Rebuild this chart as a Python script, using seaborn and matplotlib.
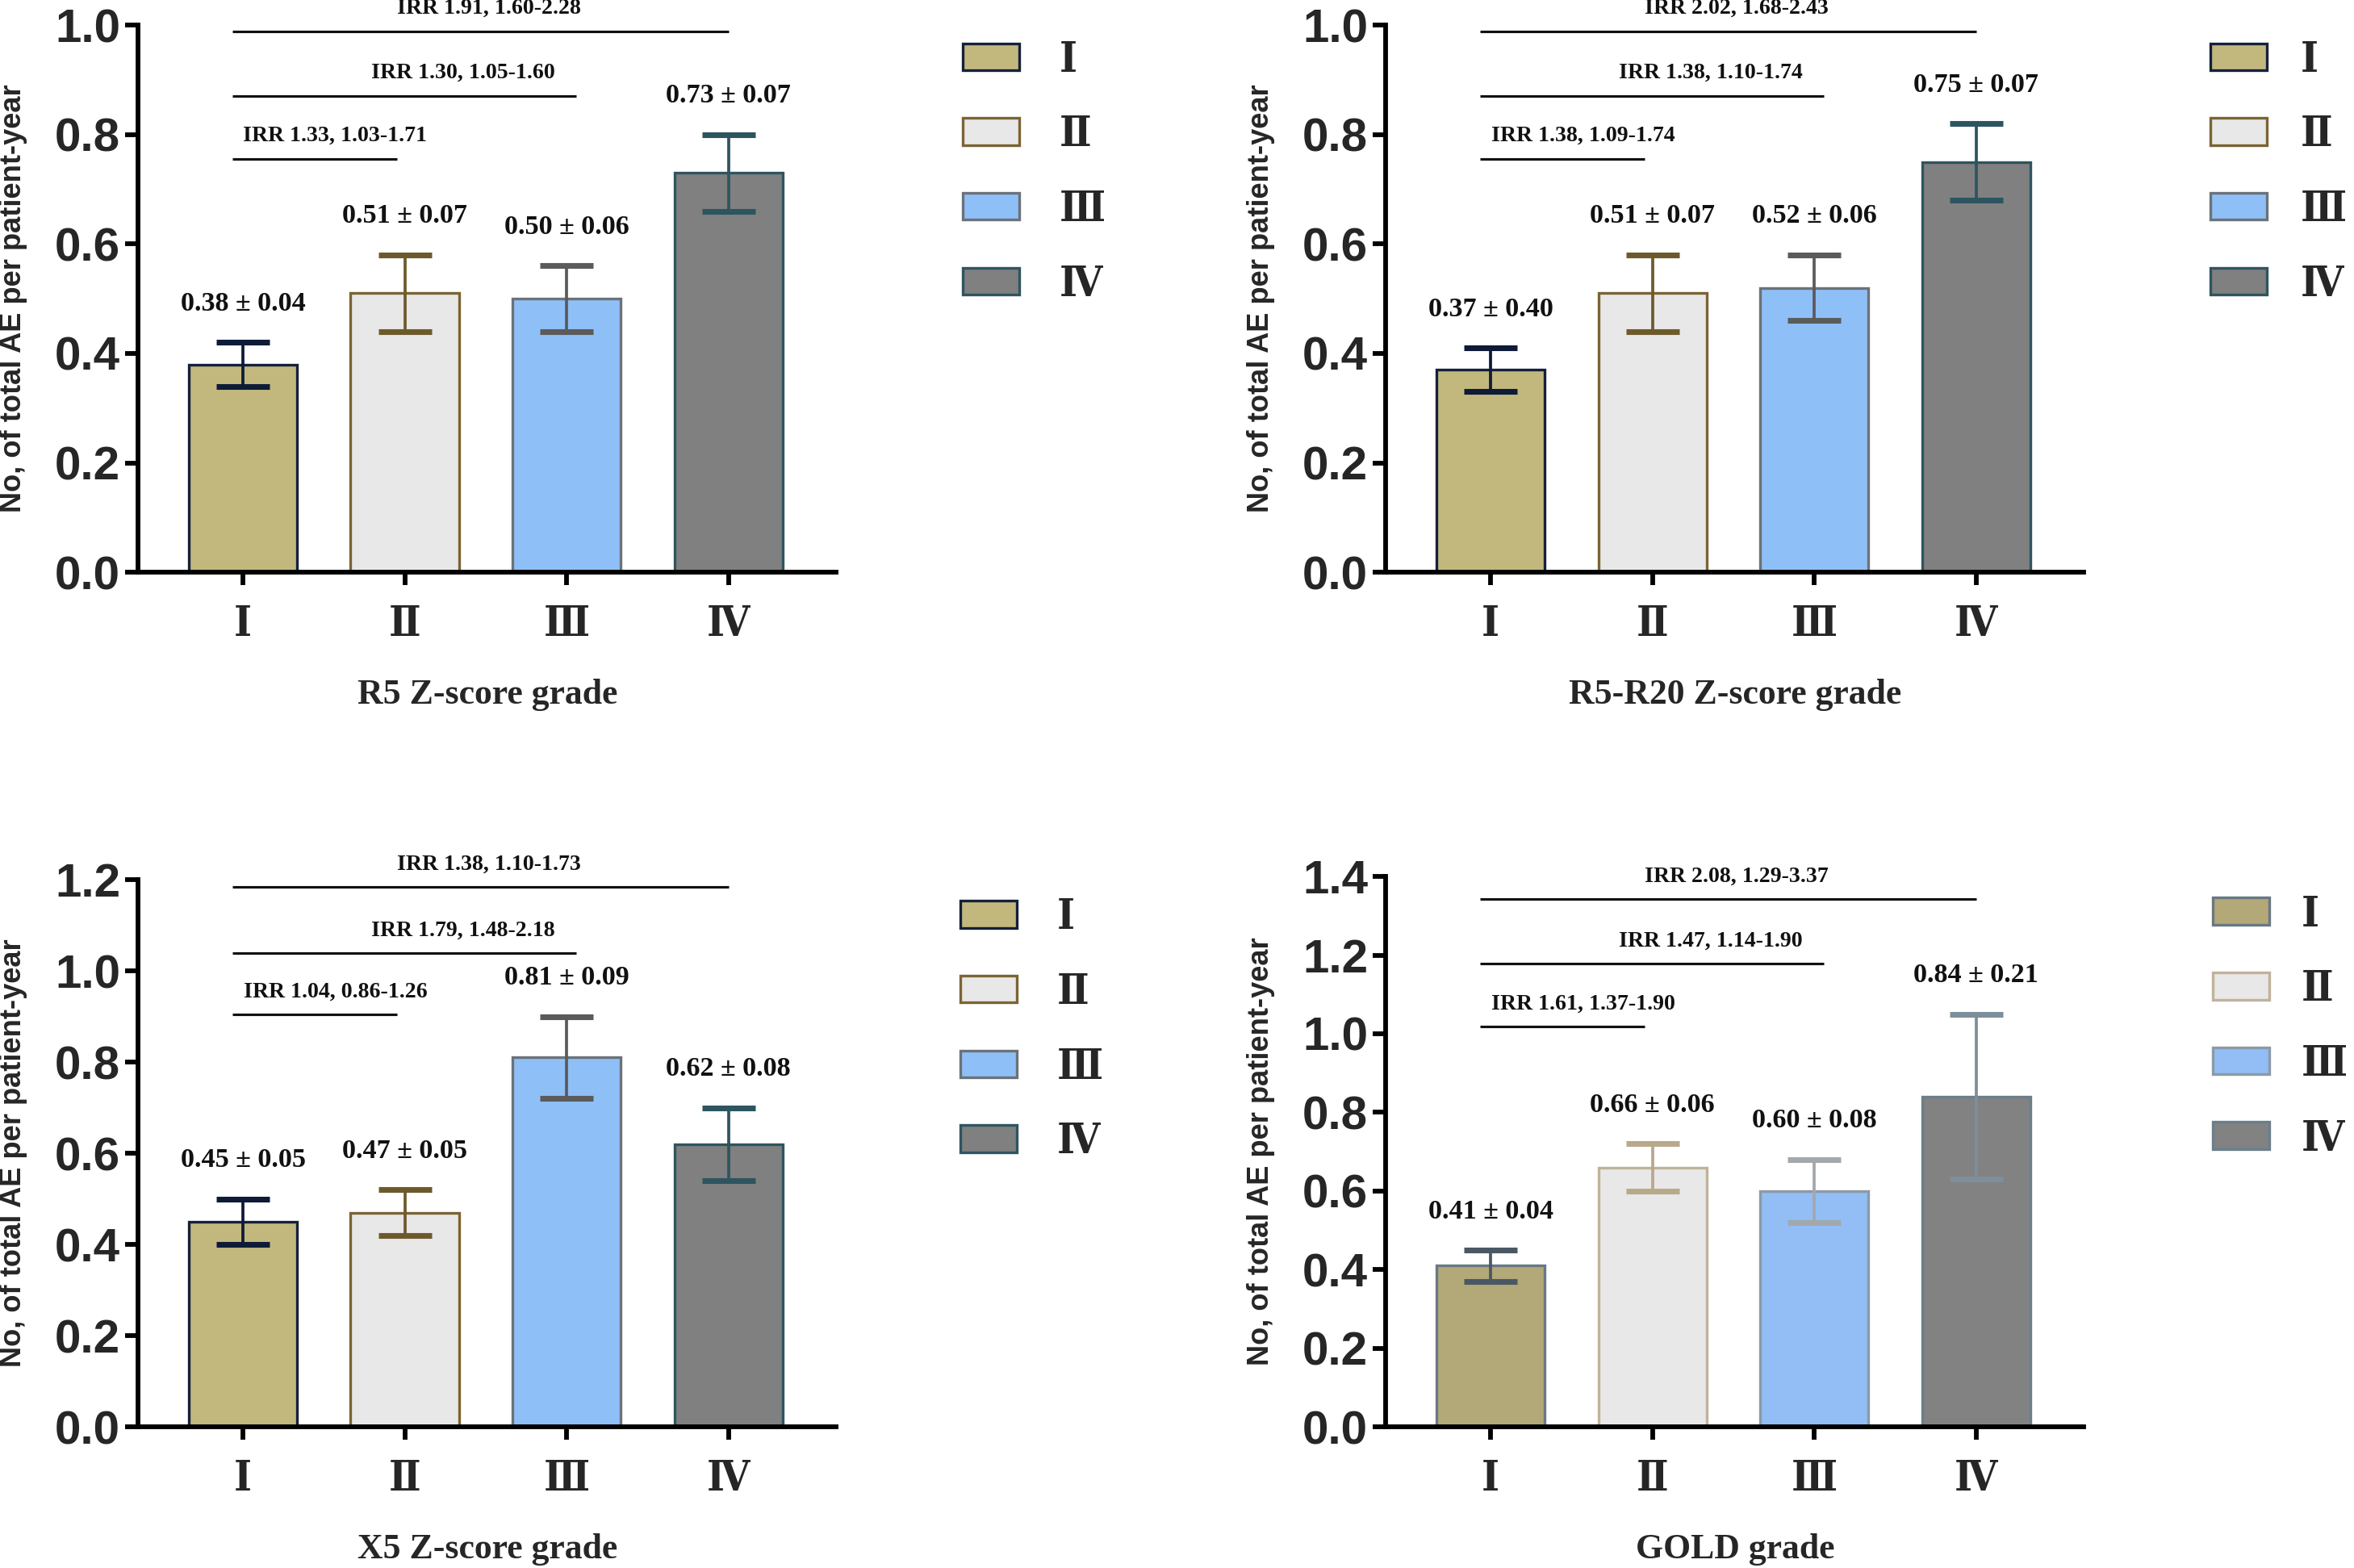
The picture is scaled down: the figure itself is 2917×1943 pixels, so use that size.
import numpy as np
import pandas as pd
import matplotlib
matplotlib.use("Agg")
import matplotlib.pyplot as plt
import seaborn as sns
from matplotlib.patches import Patch

# ---------------- data ----------------
grades = ["Ⅰ", "Ⅱ", "Ⅲ", "Ⅳ"]

r5_rate = [0.38, 0.51, 0.50, 0.73]
r5_err = [0.04, 0.07, 0.06, 0.07]
r5_labels = ["0.38 ± 0.04", "0.51 ± 0.07", "0.50 ± 0.06", "0.73 ± 0.07"]
r5_irr = ["IRR 1.33, 1.03-1.71", "IRR 1.30, 1.05-1.60", "IRR 1.91, 1.60-2.28"]

r520_rate = [0.37, 0.51, 0.52, 0.75]
r520_err = [0.04, 0.07, 0.06, 0.07]
r520_labels = ["0.37 ± 0.40", "0.51 ± 0.07", "0.52 ± 0.06", "0.75 ± 0.07"]
r520_irr = ["IRR 1.38, 1.09-1.74", "IRR 1.38, 1.10-1.74", "IRR 2.02, 1.68-2.43"]

x5_rate = [0.45, 0.47, 0.81, 0.62]
x5_err = [0.05, 0.05, 0.09, 0.08]
x5_labels = ["0.45 ± 0.05", "0.47 ± 0.05", "0.81 ± 0.09", "0.62 ± 0.08"]
x5_irr = ["IRR 1.04, 0.86-1.26", "IRR 1.79, 1.48-2.18", "IRR 1.38, 1.10-1.73"]

gold_rate = [0.41, 0.66, 0.60, 0.84]
gold_err = [0.04, 0.06, 0.08, 0.21]
gold_labels = ["0.41 ± 0.04", "0.66 ± 0.06", "0.60 ± 0.08", "0.84 ± 0.21"]
gold_irr = ["IRR 1.61, 1.37-1.90", "IRR 1.47, 1.14-1.90", "IRR 2.08, 1.29-3.37"]

xlabels = ["R5 Z-score grade", "R5-R20 Z-score grade", "X5 Z-score grade", "GOLD grade"]
ylabel = "No, of total AE per patient-year"

# ---------------- styles ----------------
fill_a = ["#c2b87e", "#e8e8e8", "#8fbff7", "#808080"]
edge_a = ["#15203a", "#7b6434", "#6b7278", "#2e5560"]
err_a = ["#0e1b38", "#6d5a2c", "#5b5b5b", "#2d5560"]
fill_g = ["#b3a877", "#e8e8e8", "#92bef5", "#828282"]
edge_g = ["#6a7886", "#c0b29a", "#8c9aa6", "#6a7f8a"]
err_g = ["#4a5864", "#b9a98b", "#a3a8ad", "#7d8f9b"]

sns.set_theme(style="white")
plt.rcParams["font.family"] = ["Liberation Sans", "DejaVu Sans"]

W, H = 2917 / 300, 1943 / 300
fig = plt.figure(figsize=(W, H), dpi=300)

panels = [
    dict(rect=[0.0587, 0.635, 0.2966, 0.349], rate=r5_rate, err=r5_err, labels=r5_labels,
         irr=r5_irr, ymax=1.0, irr_y=[0.756, 0.871, 0.989], xl=xlabels[0],
         fill=fill_a, edge=edge_a, ecol=err_a, leg=(0.409, 0.975), pad=0.95),
    dict(rect=[0.5887, 0.635, 0.2966, 0.349], rate=r520_rate, err=r520_err, labels=r520_labels,
         irr=r520_irr, ymax=1.0, irr_y=[0.756, 0.871, 0.989], xl=xlabels[1],
         fill=fill_a, edge=edge_a, ecol=err_a, leg=(0.939, 0.975), pad=0.8),
    dict(rect=[0.0587, 0.090, 0.2966, 0.349], rate=x5_rate, err=x5_err, labels=x5_labels,
         irr=x5_irr, ymax=1.2, irr_y=[0.904, 1.039, 1.184], xl=xlabels[2],
         fill=fill_a, edge=edge_a, ecol=err_a, leg=(0.408, 0.428), pad=0.95),
    dict(rect=[0.5887, 0.090, 0.2966, 0.351], rate=gold_rate, err=gold_err, labels=gold_labels,
         irr=gold_irr, ymax=1.4, irr_y=[1.018, 1.179, 1.343], xl=xlabels[3],
         fill=fill_g, edge=edge_g, ecol=err_g, leg=(0.940, 0.430), pad=0.75),
]

line_end = [0.95, 2.06, 3.0]
line_start = -0.065
text_x = [0.57, 1.36, 1.52]

roman_family = ["DejaVu Serif", "DejaVu Sans"]
roman_font = dict(family=roman_family, weight="bold", size=12.5, stretch="condensed")

for p in panels:
    ax = fig.add_axes(p["rect"])
    df = pd.DataFrame({"grade": grades, "rate": p["rate"]})
    sns.barplot(data=df, x="grade", y="rate", hue="grade", palette=p["fill"],
                width=0.67, dodge=False, legend=False, ax=ax, linewidth=0.8,
                saturation=1, errorbar=None)
    for patch, ec in zip(ax.patches, p["edge"]):
        patch.set_edgecolor(ec)
        patch.set_linewidth(0.8)
    for i in range(4):
        ax.errorbar(i, p["rate"][i], yerr=p["err"][i], fmt="none", ecolor=p["ecol"][i],
                    elinewidth=0.9, capsize=8, capthick=1.7, zorder=5)
        ax.annotate(p["labels"][i], xy=(i, p["rate"][i] + p["err"][i]), xytext=(0, 11.5),
                    textcoords="offset points", ha="center", va="center",
                    family="Liberation Serif", weight="bold", fontsize=8.2, color="#111111")
    for k in range(3):
        yk = p["irr_y"][k]
        ax.plot([line_start, line_end[k]], [yk, yk], color="#111111", lw=0.75,
                clip_on=False, solid_capstyle="butt")
        ax.annotate(p["irr"][k], xy=(text_x[k], yk), xytext=(0, 6.7),
                    textcoords="offset points", ha="center", va="center",
                    family="Liberation Serif", weight="bold", fontsize=6.7,
                    color="#111111", annotation_clip=False)

    ax.set_xlim(-0.648, 3.667)
    ax.set_ylim(0, p["ymax"])
    ticks = np.round(np.arange(0, p["ymax"] + 0.001, 0.2), 1)
    ax.set_yticks(ticks)
    ax.set_yticklabels([f"{t:.1f}" for t in ticks], fontsize=14, weight="bold",
                       family="Liberation Sans")
    ax.set_xticks(range(4))
    ax.set_xticklabels(grades, **roman_font)
    for s in ["top", "right"]:
        ax.spines[s].set_visible(False)
    for s in ["left", "bottom"]:
        ax.spines[s].set_linewidth(1.4)
        ax.spines[s].set_color("black")
    ax.tick_params(axis="both", which="major", length=3.8, width=1.4, color="black",
                   direction="out", bottom=True, left=True)
    ax.tick_params(axis="y", pad=1.5)
    ax.tick_params(axis="x", pad=5.5)
    ax.set_xlabel(p["xl"], family="Liberation Serif", weight="bold", fontsize=10.5,
                  labelpad=10)
    ax.set_ylabel(ylabel, family="Liberation Sans", weight="bold", fontsize=8.7)
    ax.yaxis.set_label_coords(-0.159, 0.5)

    handles = [Patch(facecolor=p["fill"][i], edgecolor=p["edge"][i], linewidth=0.8)
               for i in range(4)]
    ax.legend(handles, grades, loc="upper left", bbox_to_anchor=p["leg"],
              bbox_transform=fig.transFigure, frameon=False, borderpad=0,
              borderaxespad=0, handlelength=1.35, handleheight=0.61,
              handletextpad=p["pad"], labelspacing=0.8,
              prop=dict(family=roman_family, weight="bold", size=12.5, stretch="condensed"))

fig.savefig("out.png", dpi=300, facecolor="white")
